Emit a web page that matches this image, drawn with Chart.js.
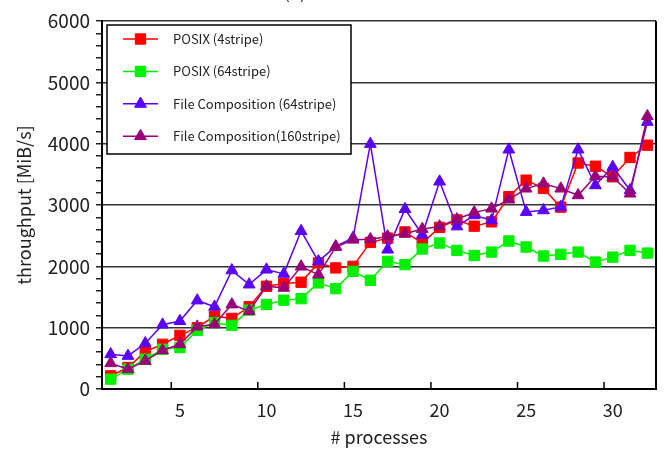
<!DOCTYPE html>
<html>
<head>
<meta charset="utf-8">
<script src="https://cdn.jsdelivr.net/npm/chart.js@4.4.1/dist/chart.umd.min.js"></script>
<style>
html, body { margin:0; padding:0; background:#fff; }
#wrap { width:668px; height:451px; }
</style>
</head>
<body>
<div id="wrap"><canvas id="chart" width="668" height="451"></canvas></div>
<script>
// number of processes 1..32
let processes = [];
for (let i = 1; i <= 32; i++) processes.push(String(i));

let posix4 = [215, 350, 610, 729, 875, 1000, 1188, 1151, 1341, 1675, 1719, 1741, 2055, 1974, 2000, 2390,
              2460, 2560, 2380, 2635, 2756, 2655, 2725, 3135, 3405, 3270, 2965, 3685, 3632, 3460, 3775, 3975];
let posix64 = [161, 323, 485, 648, 675, 956, 1081, 1037, 1286, 1378, 1448, 1473, 1730, 1637, 1919, 1773,
               2081, 2028, 2283, 2380, 2260, 2177, 2233, 2413, 2315, 2168, 2196, 2233, 2070, 2150, 2261, 2216];
let fc64 = [566, 539, 745, 1049, 1107, 1443, 1341, 1935, 1703, 1946, 1877, 2575, 2081, 2325, 2462, 3995,
            2272, 2933, 2515, 3382, 2650, 2832, 2750, 3904, 2886, 2913, 2968, 3904, 3321, 3620, 3240, 4354];
let fc160 = [420, 323, 458, 631, 729, 1016, 1054, 1378, 1270, 1675, 1649, 1995, 1865, 2315, 2434, 2442,
             2488, 2532, 2608, 2650, 2767, 2880, 2941, 3088, 3267, 3349, 3267, 3158, 3468, 3457, 3186, 4447];

let seriesNames = ["POSIX (4stripe)", "POSIX (64stripe)", "File Composition (64stripe)", "File Composition(160stripe)"];

const FONT = '"Noto Sans CJK JP", "Noto Sans", sans-serif';

function makeSet(label, data, color, style, order){
    return {
        label: label,
        data: data,
        borderColor: color,
        backgroundColor: color,
        borderWidth: 1.5,
        pointStyle: style,
        pointRadius: style === "rect" ? 7.3 : 6.8,
        pointBorderWidth: 1,
        pointBackgroundColor: color,
        pointBorderColor: color,
        tension: 0,
        order: order
    };
}

// x tick marks point inward, between categories
const xTicks = {
    id: "xTicks",
    afterDraw(chart){
        const ctx = chart.ctx, xs = chart.scales.x, area = chart.chartArea;
        ctx.save();
        ctx.strokeStyle = "#000";
        ctx.lineWidth = 1.5;
        for (let i = 4; i < processes.length; i += 5) {
            let px = (xs.getPixelForValue(i - 1) + xs.getPixelForValue(i)) / 2;
            ctx.beginPath();
            ctx.moveTo(px, area.bottom);
            ctx.lineTo(px, area.bottom - 7);
            ctx.stroke();
        }
        // right frame
        ctx.lineWidth = 2;
        ctx.beginPath();
        ctx.moveTo(area.right, area.top);
        ctx.lineTo(area.right, area.bottom);
        ctx.stroke();
        // cut-off title
        ctx.fillStyle = "#333";
        ctx.font = "18px " + FONT;
        ctx.textAlign = "center";
        ctx.fillText("(a)", 295, -1);
        ctx.restore();
    }
};

// boxed legend in top-left of plot
const boxLegend = {
    id: "boxLegend",
    afterDraw(chart){
        const ctx = chart.ctx;
        const x0 = 107, y0 = 25, w = 244, h = 129;
        ctx.save();
        ctx.fillStyle = "#fff";
        ctx.fillRect(x0, y0, w, h);
        ctx.strokeStyle = "#000";
        ctx.lineWidth = 1.5;
        ctx.strokeRect(x0, y0, w, h);
        ctx.font = "13px " + FONT;
        ctx.textBaseline = "middle";
        ctx.textAlign = "left";
        chart.data.datasets.forEach((ds, i) => {
            let cy = 39 + i * 32.4;
            ctx.strokeStyle = ds.borderColor;
            ctx.lineWidth = 1.5;
            ctx.beginPath();
            ctx.moveTo(123, cy);
            ctx.lineTo(158, cy);
            ctx.stroke();
            ctx.fillStyle = ds.borderColor;
            ctx.lineWidth = 1;
            Chart.helpers.drawPoint(ctx, {pointStyle: ds.pointStyle, radius: ds.pointRadius, borderWidth: 1}, 140.5, cy);
            ctx.fill();
            ctx.fillStyle = "#222";
            ctx.fillText(ds.label, 173, cy);
        });
        ctx.restore();
    }
};

new Chart(document.getElementById("chart"), {
    type: "line",
    data: {
        labels: processes,
        datasets: [
            makeSet(seriesNames[0], posix4, "#ff0000", "rect", 4),
            makeSet(seriesNames[1], posix64, "#00f000", "rect", 3),
            makeSet(seriesNames[2], fc64, "#5a00ff", "triangle", 2),
            makeSet(seriesNames[3], fc160, "#990077", "triangle", 1)
        ]
    },
    options: {
        responsive: false,
        animation: false,
        layout: { padding: { top: 21, right: 12, left: 0, bottom: 0 } },
        plugins: {
            legend: { display: false },
            tooltip: { enabled: false }
        },
        scales: {
            x: {
                type: "category",
                offset: true,
                afterFit(scale){ scale.height = 62; },
                grid: { display: true, drawOnChartArea: false, drawTicks: false },
                border: { display: true, color: "#000", width: 2 },
                ticks: {
                    autoSkip: false,
                    maxRotation: 0,
                    padding: 10,
                    color: "#222",
                    font: { family: FONT, size: 18 },
                    callback: function(v, i){ return (i + 1) % 5 === 0 ? processes[i] : ""; }
                },
                title: {
                    display: true,
                    text: "# processes",
                    color: "#222",
                    font: { family: FONT, size: 18 },
                    padding: { top: 0, bottom: 3 }
                }
            },
            y: {
                min: 0,
                max: 6000,
                afterFit(scale){ scale.width = 102; },
                border: { display: true, color: "#000", width: 2 },
                grid: {
                    color: ctx => (ctx.tick && ctx.tick.value % 1000 === 0) ? "#333" : "rgba(0,0,0,0)",
                    tickColor: "#222",
                    tickLength: 6,
                    lineWidth: 1.5
                },
                ticks: {
                    stepSize: 200,
                    autoSkip: false,
                    padding: 6,
                    color: "#222",
                    font: { family: FONT, size: 19 },
                    callback: v => v % 1000 === 0 ? v : ""
                },
                title: {
                    display: true,
                    text: "throughput [MiB/s]",
                    color: "#222",
                    font: { family: FONT, size: 18 },
                    padding: { top: 13, bottom: 0 }
                }
            }
        }
    },
    plugins: [xTicks, boxLegend]
});
</script>
</body>
</html>
